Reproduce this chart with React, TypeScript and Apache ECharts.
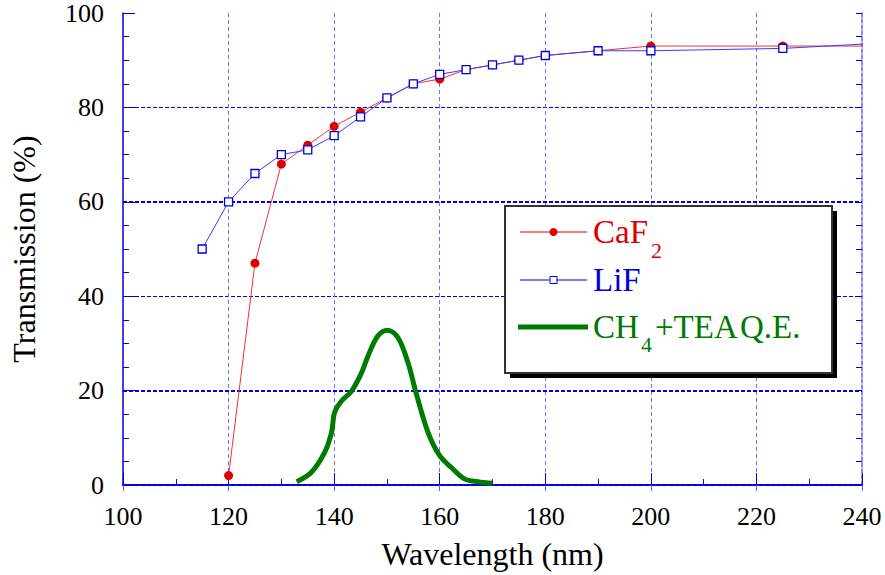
import React, { useEffect, useRef } from "react";
import * as echarts from "echarts";

// ---- data ----
const caf2Wavelength = [120, 125, 130, 135, 140, 145, 150, 155, 160, 165, 170, 175, 180, 190, 200, 225, 250];
const caf2Transmission = [2, 47, 68, 72, 76, 79, 82, 85, 86, 88, 89, 90, 91, 92, 93, 93, 93];

const lifWavelength = [115, 120, 125, 130, 135, 140, 145, 150, 155, 160, 165, 170, 175, 180, 190, 200, 225, 250];
const lifTransmission = [50, 60, 66, 70, 71, 74, 78, 82, 85, 87, 88, 89, 90, 91, 92, 92, 92.5, 94];

const qeWavelength = [132.9, 135.7, 138.2, 139.5, 140.1, 141.4, 143.3, 145.2, 146.4, 148.3, 150.1, 152.1, 154.0, 155.5, 157.8, 160.0, 162.2, 164.7, 167.2, 170.0];
const qeValues = [0.7, 2.7, 6.9, 11.1, 15.4, 17.8, 19.9, 23.8, 27.3, 31.6, 32.8, 31.2, 25.9, 19.6, 11.1, 6.2, 3.7, 1.3, 0.7, 0.35];

const xTicks = { min: 100, max: 240, interval: 20 };
const yTicks = { min: 0, max: 100, interval: 20 };
const boldGridLevels = [20, 60];

const seriesNames = ["CaF2", "LiF", "CH4+TEA Q.E."];

const FONT = "Liberation Serif";
const AXIS_BLUE = "#0000dd";
const RED = "#dd0000";
const BLUE = "#0000dd";
const GREEN = "#007a00";

const zip = (xs: number[], ys: number[]) => xs.map((x, i) => [x, ys[i]]);

export default function App() {
  const ref = useRef<HTMLDivElement>(null);

  useEffect(() => {
    if (!ref.current) return;
    const chart = echarts.init(ref.current, undefined, { renderer: "svg" });

    const baseX = {
      type: "value" as const,
      min: xTicks.min,
      max: xTicks.max,
      interval: xTicks.interval,
    };
    const baseY = {
      type: "value" as const,
      min: yTicks.min,
      max: yTicks.max,
      interval: yTicks.interval,
    };

    const legendTop = 206;
    const legendLeft = 505;
    const legendW = 327;
    const legendH = 167;
    const rowY = [232, 280, 327];
    const lineX0 = 520;
    const lineX1 = 587;
    const textX = 593;
    const legendFont = 33;

    const txt = (x: number, y: number, text: string, fill: string, size: number) => ({
      type: "text",
      x,
      y,
      z: 101,
      style: { text, fill, fontSize: size, fontFamily: FONT, verticalAlign: "middle", align: "left" },
    });

    chart.setOption({
      animation: false,
      grid: { left: 121, right: 23, top: 13, bottom: 89 },
      xAxis: [
        {
          ...baseX,
          position: "bottom",
          axisLine: { show: true, lineStyle: { color: AXIS_BLUE, width: 1.5 } },
          axisTick: { show: true, inside: true, length: 12, lineStyle: { color: AXIS_BLUE } },
          minorTick: { show: true, splitNumber: 2, length: 6, lineStyle: { color: AXIS_BLUE } },
          splitLine: {
            show: true,
            showMinLine: false,
            showMaxLine: false,
            lineStyle: { color: "#7070f0", type: [4, 3], width: 1 },
          },
          axisLabel: { fontSize: 26, fontFamily: FONT, color: "#000", margin: 18 },
          name: "Wavelength (nm)",
          nameLocation: "middle",
          nameGap: 53,
          nameTextStyle: { fontSize: 32, fontFamily: FONT, color: "#000" },
        },
        {
          ...baseX,
          position: "top",
          axisLine: { show: true, lineStyle: { color: AXIS_BLUE, width: 2, type: [4, 2] } },
          axisTick: { show: true, inside: true, length: 6, lineStyle: { color: "#6060ee" } },
          minorTick: { show: false },
          splitLine: { show: false },
          axisLabel: { show: false },
        },
      ],
      yAxis: [
        {
          ...baseY,
          position: "left",
          axisLine: { show: true, lineStyle: { color: AXIS_BLUE, width: 1.5 } },
          axisTick: { show: true, inside: true, length: 12, lineStyle: { color: AXIS_BLUE } },
          minorTick: { show: true, splitNumber: 4, length: 6, lineStyle: { color: AXIS_BLUE } },
          splitLine: {
            show: true,
            showMinLine: false,
            showMaxLine: false,
            lineStyle: { color: AXIS_BLUE, type: [4, 2], width: 1 },
          },
          axisLabel: { fontSize: 26, fontFamily: FONT, color: "#000", margin: 19 },
          name: "Transmission (%)",
          nameLocation: "middle",
          nameGap: 83,
          nameTextStyle: { fontSize: 32, fontFamily: FONT, color: "#000" },
        },
        {
          ...baseY,
          position: "right",
          axisLine: { show: true, lineStyle: { color: "#6060ee", width: 1.5, type: [4, 2] } },
          axisTick: { show: true, inside: true, length: 6, lineStyle: { color: AXIS_BLUE } },
          minorTick: { show: true, splitNumber: 4, length: 6, lineStyle: { color: AXIS_BLUE } },
          splitLine: { show: false },
          axisLabel: { show: false },
        },
      ],
      series: [
        {
          name: seriesNames[0],
          type: "line",
          xAxisIndex: 0,
          yAxisIndex: 0,
          data: zip(caf2Wavelength, caf2Transmission),
          symbol: "circle",
          symbolSize: 9,
          itemStyle: { color: RED },
          lineStyle: { color: "#ee3333", width: 1 },
          clip: true,
          z: 3,
          markLine: {
            silent: true,
            symbol: ["none", "none"],
            label: { show: false },
            lineStyle: { color: AXIS_BLUE, type: [4, 2], width: 2 },
            data: boldGridLevels.map((v) => ({ yAxis: v })),
            z: 1,
          },
        },
        {
          name: seriesNames[1],
          type: "line",
          xAxisIndex: 0,
          yAxisIndex: 0,
          data: zip(lifWavelength, lifTransmission),
          symbol: "rect",
          symbolSize: 8,
          itemStyle: { color: "#ffffff", borderColor: BLUE, borderWidth: 1.3 },
          lineStyle: { color: "#3b3bff", width: 1 },
          clip: true,
          z: 4,
        },
        {
          name: seriesNames[2],
          type: "line",
          xAxisIndex: 0,
          yAxisIndex: 0,
          data: zip(qeWavelength, qeValues),
          symbol: "none",
          smooth: 0.35,
          lineStyle: { color: GREEN, width: 5 },
          clip: true,
          z: 5,
        },
      ],
      graphic: [
        {
          type: "rect",
          z: 100,
          shape: { x: legendLeft + 5, y: legendTop + 5, width: legendW, height: legendH },
          style: { fill: "#000" },
        },
        {
          type: "rect",
          z: 100,
          shape: { x: legendLeft, y: legendTop, width: legendW, height: legendH },
          style: { fill: "#fff", stroke: "#333", lineWidth: 2 },
        },
        {
          type: "line",
          z: 101,
          shape: { x1: lineX0, y1: rowY[0], x2: lineX1, y2: rowY[0] },
          style: { stroke: RED, lineWidth: 1 },
        },
        {
          type: "circle",
          z: 101,
          shape: { cx: (lineX0 + lineX1) / 2, cy: rowY[0], r: 4 },
          style: { fill: RED },
        },
        txt(textX, rowY[0], "CaF", RED, legendFont),
        txt(651, 250, "2", RED, 22),
        {
          type: "line",
          z: 101,
          shape: { x1: lineX0, y1: rowY[1], x2: lineX1, y2: rowY[1] },
          style: { stroke: BLUE, lineWidth: 1 },
        },
        {
          type: "rect",
          z: 101,
          shape: { x: (lineX0 + lineX1) / 2 - 3.5, y: rowY[1] - 3.5, width: 7, height: 7 },
          style: { fill: "#fff", stroke: BLUE, lineWidth: 1 },
        },
        txt(textX, rowY[1], "LiF", BLUE, legendFont),
        {
          type: "line",
          z: 101,
          shape: { x1: lineX0 - 2, y1: rowY[2], x2: lineX1 + 1, y2: rowY[2] },
          style: { stroke: GREEN, lineWidth: 5 },
        },
        txt(textX, rowY[2], "CH", GREEN, legendFont),
        txt(641, 344, "4", GREEN, 22),
        txt(655, rowY[2], "+TEA", GREEN, legendFont),
        txt(740, rowY[2], "Q.E.", GREEN, legendFont),
      ],
    });

    return () => chart.dispose();
  }, []);

  return (
    <div
      ref={ref}
      style={{ width: 885, height: 575, position: "absolute", left: 0, top: 0, fontFamily: "Liberation Serif" }}
    />
  );
}
